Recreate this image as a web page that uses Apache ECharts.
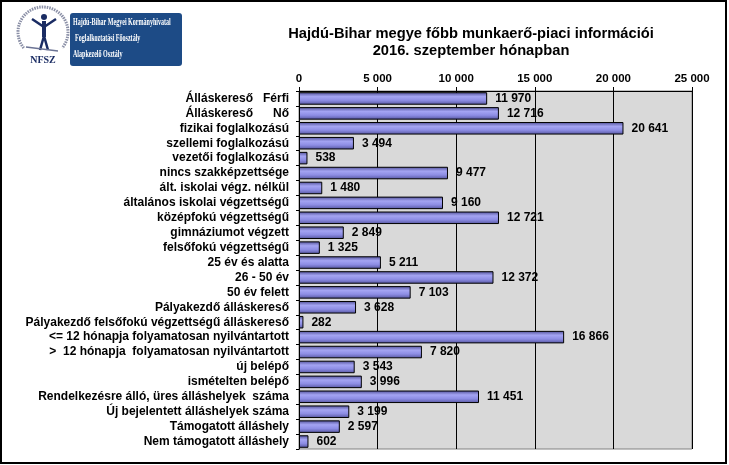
<!DOCTYPE html>
<html>
<head>
<meta charset="utf-8">
<script src="https://cdn.jsdelivr.net/npm/echarts@6/dist/echarts.min.js"></script>
<style>
  html, body { margin: 0; padding: 0; background: #fff; }
  #chart { width: 729px; height: 465px; }
</style>
</head>
<body>
<div id="chart"></div>
<script>
// kategóriák felülről lefelé
var categories = [
  'Álláskereső   Férfi',
  'Álláskereső      Nő',
  'fizikai foglalkozású',
  'szellemi foglalkozású',
  'vezetői foglalkozású',
  'nincs szakképzettsége',
  'ált. iskolai végz. nélkül',
  'általános iskolai végzettségű',
  'középfokú végzettségű',
  'gimnáziumot végzett',
  'felsőfokú végzettségű',
  '25 év és alatta',
  '26 - 50 év',
  '50 év felett',
  'Pályakezdő álláskereső',
  'Pályakezdő felsőfokú végzettségű álláskereső',
  '<= 12 hónapja folyamatosan nyilvántartott',
  '>  12 hónapja  folyamatosan nyilvántartott',
  'új belépő',
  'ismételten belépő',
  'Rendelkezésre álló, üres álláshelyek  száma',
  'Új bejelentett álláshelyek száma',
  'Támogatott álláshely',
  'Nem támogatott álláshely'
]
var values = [11970, 12716, 20641, 3494, 538, 9477, 1480, 9160, 12721, 2849, 1325, 5211,
  12372, 7103, 3628, 282, 16866, 7820, 3543, 3996, 11451, 3199, 2597, 602]
var axisMin = 0
var axisMax = 25000
var axisStep = 5000

function fmt (v) {
  return String(v).replace(/\B(?=(\d{3})+(?!\d))/g, ' ')
}

var myChart = echarts.init(document.getElementById('chart'))
var option = {
  animation: false,
  backgroundColor: '#fff',
  textStyle: { fontFamily: 'Liberation Sans' },
  title: {
    text: 'Hajdú-Bihar megye főbb munkaerő-piaci információi\n2016. szeptember hónapban',
    left: 466,
    top: 20,
    textAlign: 'center',
    textStyle: {
      fontFamily: 'Liberation Sans',
      fontSize: 14.7,
      fontWeight: 'bold',
      color: '#000',
      lineHeight: 17
    }
  },
  grid: {
    left: 299,
    right: 37,
    top: 91,
    bottom: 16,
    show: true,
    backgroundColor: '#d9d9d9',
    borderColor: '#808080',
    borderWidth: 1
  },
  xAxis: {
    type: 'value',
    position: 'top',
    min: axisMin,
    max: axisMax,
    interval: axisStep,
    axisLine: { show: true, lineStyle: { color: '#000', width: 1 } },
    axisTick: { show: true, length: 4, lineStyle: { color: '#000' } },
    splitLine: { show: true, lineStyle: { color: '#000', width: 1 } },
    axisLabel: {
      margin: 6,
      fontSize: 11.5,
      fontWeight: 'bold',
      color: '#000',
      formatter: fmt
    }
  },
  yAxis: {
    type: 'category',
    inverse: true,
    data: categories,
    axisLine: { show: true, lineStyle: { color: '#000', width: 1 } },
    axisTick: { show: true, length: 3, interval: 0, lineStyle: { color: '#000' } },
    axisLabel: {
      interval: 0,
      margin: 10,
      fontSize: 12,
      fontWeight: 'bold',
      color: '#000'
    }
  },
  series: [
    {
      type: 'bar',
      data: values,
      barCategoryGap: '16%',
      itemStyle: {
        borderColor: '#000',
        borderWidth: 1,
        color: new echarts.graphic.LinearGradient(0, 0, 0, 1, [
          { offset: 0, color: '#4e4e96' },
          { offset: 0.35, color: '#a4a4f2' },
          { offset: 0.65, color: '#8d8de4' },
          { offset: 1, color: '#55559e' }
        ])
      },
      label: {
        show: true,
        position: 'right',
        distance: 8,
        fontSize: 12,
        fontWeight: 'bold',
        color: '#000',
        formatter: function (p) { return fmt(p.value) }
      }
    }
  ],
  graphic: [
    // külső keret
    {
      type: 'rect',
      shape: { x: 1, y: 1, width: 725, height: 462 },
      style: { fill: 'none', stroke: '#000', lineWidth: 2 },
      z: 100
    },
    // logó: kék doboz
    {
      type: 'rect',
      shape: { x: 70, y: 13, width: 112, height: 53, r: 3 },
      style: { fill: '#1d4b86' }
    },
    {
      type: 'text',
      x: 73, y: 17, scaleX: 0.55,
      style: { text: 'Hajdú-Bihar Megyei Kormányhivatal', fill: '#fff', font: 'bold 11px "Liberation Serif"' }
    },
    {
      type: 'text',
      x: 75, y: 33, scaleX: 0.55,
      style: { text: 'Foglalkoztatási Főosztály', fill: '#fff', font: 'bold 11px "Liberation Serif"' }
    },
    {
      type: 'text',
      x: 73, y: 49, scaleX: 0.55,
      style: { text: 'Alapkezelő Osztály', fill: '#fff', font: 'bold 11px "Liberation Serif"' }
    },
    // logó: NFSZ jelkép
    {
      type: 'arc',
      shape: { cx: 43, cy: 32, r: 25, startAngle: Math.PI * 0.78, endAngle: Math.PI * 0.22 },
      style: { fill: 'none', stroke: '#8a8fa6', lineWidth: 3, lineDash: [1.5, 1] }
    },
    {
      type: 'circle',
      shape: { cx: 44, cy: 17, r: 3 },
      style: { fill: '#1a2c63' }
    },
    {
      type: 'polyline',
      shape: { points: [[32, 19], [44, 27], [56, 19]] },
      style: { fill: 'none', stroke: '#1a2c63', lineWidth: 2.5 }
    },
    {
      type: 'polyline',
      shape: { points: [[40, 50], [44, 36], [48, 50]] },
      style: { fill: 'none', stroke: '#1a2c63', lineWidth: 2.5 }
    },
    {
      type: 'line',
      shape: { x1: 44, y1: 21, x2: 44, y2: 37 },
      style: { stroke: '#1a2c63', lineWidth: 4 }
    },
    {
      type: 'line',
      shape: { x1: 26, y1: 47, x2: 58, y2: 51 },
      style: { stroke: '#6b7394', lineWidth: 1.5 }
    },
    {
      type: 'text',
      x: 43, y: 55,
      style: { text: 'NFSZ', fill: '#1a2c63', font: 'bold 10px "Liberation Serif"', textAlign: 'center' }
    }
  ]
}
myChart.setOption(option)
</script>
</body>
</html>
